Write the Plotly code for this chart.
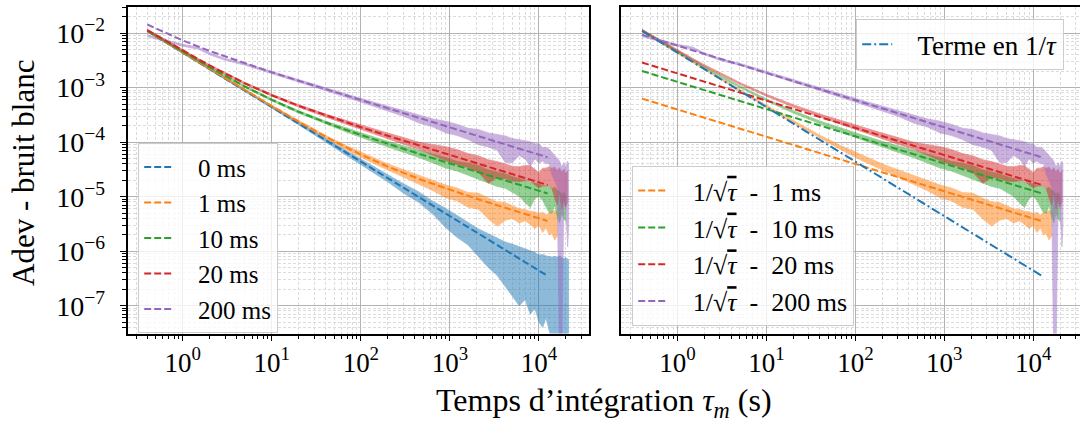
import plotly.graph_objects as go

# ---------------- data ----------------
TAU = [0.4, 0.6, 1, 1.5, 2, 3, 5, 10, 20, 40, 70, 120, 200, 300, 450, 650, 900,
       1200, 1600, 2100, 2700, 3400, 4200, 5000, 6000, 7000, 8000, 9000, 10000,
       11000, 12000, 13000, 14000, 15000, 16000, 17000, 18000, 19000, 20000,
       21000, 21500]

# measured Allan deviation envelopes (upper / lower)
UP_0MS = [1.14e-2, 7.62e-3, 4.58e-3, 3.05e-3, 2.29e-3, 1.53e-3, 9.15e-4, 4.58e-4, 2.31e-4, 1.18e-4,
          6.9e-5, 4.1e-5, 2.53e-5, 1.73e-5, 1.22e-5, 8.1e-6, 6.1e-6, 4.5e-6, 3.3e-6, 2.55e-6,
          2.1e-6, 1.75e-6, 1.47e-6, 1.35e-6, 1.2e-6, 1.1e-6, 1.0e-6, 9.5e-7, 8.5e-7, 8.7e-7,
          8.2e-7, 8.0e-7, 7.8e-7, 8.0e-7, 7.8e-7, 8.2e-7, 7.6e-7, 7.3e-7, 7.6e-7, 7.2e-7, 7.0e-7]
LO_0MS = [1.06e-2, 7.04e-3, 4.22e-3, 2.81e-3, 2.11e-3, 1.41e-3, 8.45e-4, 4.22e-4, 2.09e-4, 1.02e-4,
          5.65e-5, 3.2e-5, 1.87e-5, 1.17e-5, 7.8e-6, 4.7e-6, 2.7e-6, 1.8e-6, 1.3e-6, 8.0e-7,
          5.0e-7, 3.6e-7, 2.2e-7, 1.5e-7, 1.0e-7, 1.3e-7, 7e-8, 9e-8, 5e-8, 4e-8,
          6e-8, 3.5e-8, 2.5e-8, 1e-8, 1e-8, 1e-8, 1e-8, 1e-8, 1e-8, 1e-8, 1e-8]

UP_1MS = [1.146e-2, 7.64e-3, 4.59e-3, 3.07e-3, 2.31e-3, 1.54e-3, 9.34e-4, 4.76e-4, 2.49e-4, 1.34e-4,
          8.52e-5, 5.68e-5, 4.0e-5, 3.13e-5, 2.5e-5, 1.99e-5, 1.63e-5, 1.45e-5, 1.19e-5, 1.16e-5,
          9.4e-6, 8.0e-6, 7.8e-6, 6.9e-6, 6.0e-6, 5.8e-6, 5.4e-6, 5.3e-6, 4.9e-6, 5.2e-6,
          4.6e-6, 5.0e-6, 5.4e-6, 5.6e-6, 5.2e-6]
LO_1MS = [1.058e-2, 7.06e-3, 4.24e-3, 2.83e-3, 2.13e-3, 1.43e-3, 8.62e-4, 4.39e-4, 2.25e-4, 1.18e-4,
          7.18e-5, 4.54e-5, 3.07e-5, 2.26e-5, 1.69e-5, 1.28e-5, 9.6e-6, 8.4e-6, 6.4e-6, 5.9e-6,
          3.9e-6, 2.9e-6, 3.7e-6, 4.0e-6, 3.3e-6, 3.6e-6, 3.1e-6, 2.6e-6, 3.0e-6, 2.2e-6,
          2.7e-6, 2.0e-6, 2.1e-6, 1.6e-6, 1.9e-6]

UP_10MS = [1.163e-2, 7.81e-3, 4.77e-3, 3.24e-3, 2.47e-3, 1.71e-3, 1.09e-3, 6.22e-4, 3.79e-4, 2.44e-4,
           1.79e-4, 1.35e-4, 1.04e-4, 8.6e-5, 7.0e-5, 5.98e-5, 5.23e-5, 4.45e-5, 4.11e-5, 3.72e-5,
           3.09e-5, 2.86e-5, 2.61e-5, 2.35e-5, 2.11e-5, 1.99e-5, 1.86e-5, 1.75e-5, 1.73e-5, 1.59e-5,
           1.58e-5, 1.57e-5, 1.4e-5, 1.5e-5, 1.3e-5, 1.25e-5, 1.1e-5, 1.2e-5, 1.0e-5]
LO_10MS = [1.073e-2, 7.21e-3, 4.40e-3, 2.99e-3, 2.28e-3, 1.58e-3, 1.007e-3, 5.74e-4, 3.43e-4, 2.17e-4,
           1.52e-4, 1.10e-4, 8.2e-5, 6.55e-5, 5.25e-5, 4.16e-5, 3.35e-5, 2.97e-5, 2.44e-5, 2.1e-5,
           1.78e-5, 1.54e-5, 1.43e-5, 1.23e-5, 1.02e-5, 7.7e-6, 6.4e-6, 9.4e-6, 1.02e-5, 8.5e-6,
           6.4e-6, 5.1e-6, 5.0e-6, 7.0e-6, 4.4e-6, 3.3e-6, 5.0e-6, 4.0e-6, 3.5e-6]

UP_20MS = [1.18e-2, 8.0e-3, 4.96e-3, 3.42e-3, 2.65e-3, 1.88e-3, 1.25e-3, 7.56e-4, 4.88e-4, 3.28e-4,
           2.46e-4, 1.88e-4, 1.47e-4, 1.22e-4, 9.98e-5, 9.0e-5, 8.26e-5, 7.31e-5, 6.18e-5, 5.6e-5,
           4.75e-5, 4.4e-5, 4.0e-5, 3.63e-5, 3.54e-5, 3.72e-5, 3.68e-5, 3.09e-5, 2.75e-5, 3.32e-5,
           3.34e-5, 3.53e-5, 3.3e-5, 3.5e-5, 3.0e-5, 3.4e-5, 2.8e-5, 3.2e-5, 2.6e-5, 3.0e-5]
LO_20MS = [1.09e-2, 7.39e-3, 4.57e-3, 3.16e-3, 2.45e-3, 1.74e-3, 1.153e-3, 6.98e-4, 4.41e-4, 2.91e-4,
           2.09e-4, 1.54e-4, 1.155e-4, 9.2e-5, 7.38e-5, 5.77e-5, 4.59e-5, 3.87e-5, 3.44e-5, 2.8e-5,
           1.76e-5, 2.26e-5, 2.14e-5, 1.94e-5, 1.89e-5, 1.97e-5, 1.94e-5, 1.64e-5, 1.46e-5, 1.57e-5,
           1.59e-5, 1.6e-5, 1.4e-5, 1.0e-5, 7e-6, 1.2e-5, 6e-6, 9e-6, 6.5e-6, 8e-6]

UP_200MS = [9.36e-3, 7.8e-3, 6.24e-3, 5.51e-3, 4.37e-3, 3.43e-3, 2.81e-3, 1.99e-3, 1.40e-3, 9.95e-4,
            7.58e-4, 5.83e-4, 4.6e-4, 3.82e-4, 3.2e-4, 2.66e-4, 2.42e-4, 2.13e-4, 1.8e-4, 1.7e-4,
            1.48e-4, 1.37e-4, 1.3e-4, 1.17e-4, 1.1e-4, 1.06e-4, 1.02e-4, 9.3e-5, 9.4e-5, 7.9e-5,
            8.1e-5, 7.5e-5, 6.5e-5, 5.5e-5, 5.0e-5, 4.5e-5, 3.5e-5, 4.2e-5, 3.5e-5, 4.5e-5, 3.8e-5]
LO_200MS = [8.64e-3, 7.2e-3, 5.76e-3, 5.09e-3, 4.03e-3, 3.17e-3, 2.59e-3, 1.84e-3, 1.27e-3, 8.83e-4,
            6.58e-4, 4.97e-4, 3.76e-4, 3.0e-4, 2.25e-4, 1.89e-4, 1.48e-4, 1.33e-4, 1.12e-4, 9.0e-5,
            8.2e-5, 7.1e-5, 4.2e-5, 4.2e-5, 5.7e-5, 4.9e-5, 3.6e-5, 5.0e-5, 4.1e-5, 4.5e-5,
            4.0e-5, 4.1e-5, 2.5e-5, 2.0e-5, 1.5e-5, 1e-8, 1e-8, 8e-6, 6e-6, 1.2e-6, 3e-6]

# fitted models (left panel, dashed)
TAU_FIT = [0.4, 1, 2, 5, 10, 20, 50, 100, 200, 500, 1000, 2000, 5000, 12500]
FIT_0MS = [1.1e-2, 4.4e-3, 2.2e-3, 8.8e-4, 4.4e-4, 2.2e-4, 8.8e-5, 4.4e-5, 2.2e-5, 8.8e-6, 4.4e-6, 2.2e-6, 8.8e-7, 3.52e-7]
FIT_1MS = [1.102e-2, 4.418e-3, 2.218e-3, 8.98e-4, 4.577e-4, 2.373e-4, 1.045e-4, 5.93e-5, 3.57e-5, 1.986e-5, 1.335e-5, 9.17e-6, 5.70e-6, 3.58e-6]
FIT_10MS = [1.118e-2, 4.582e-3, 2.379e-3, 1.049e-3, 5.98e-4, 3.61e-4, 2.013e-4, 1.353e-4, 9.31e-5, 5.79e-5, 4.07e-5, 2.87e-5, 1.812e-5, 1.146e-5]
FIT_20MS = [1.137e-2, 4.765e-3, 2.552e-3, 1.201e-3, 7.27e-4, 4.644e-4, 2.736e-4, 1.882e-4, 1.312e-4, 8.23e-5, 5.80e-5, 4.10e-5, 2.59e-5, 1.638e-5]
FIT_200MS = [1.442e-2, 7.36e-3, 4.715e-3, 2.783e-3, 1.917e-3, 1.337e-3, 8.39e-4, 5.92e-4, 4.18e-4, 2.64e-4, 1.866e-4, 1.319e-4, 8.34e-5, 5.28e-5]

# individual terms (right panel)
TAU_TERM = [0.4, 12500]
TERM_INV_TAU = [1.1e-2, 3.52e-7]
TERM_SQRT_1MS = [6.29e-4, 3.56e-6]
TERM_SQRT_10MS = [2.02e-3, 1.145e-5]
TERM_SQRT_20MS = [2.89e-3, 1.637e-5]
TERM_SQRT_200MS = [9.33e-3, 5.28e-5]

LABELS = ["0 ms", "1 ms", "10 ms", "20 ms", "200 ms"]
XTICKS = [1, 10, 100, 1000, 10000]
XTICKTEXT = ["10<sup>0</sup>", "10<sup>1</sup>", "10<sup>2</sup>", "10<sup>3</sup>", "10<sup>4</sup>"]
YTICKS = [1e-7, 1e-6, 1e-5, 1e-4, 1e-3, 1e-2]
YTICKTEXT = ["10<sup>\u22127</sup>", "10<sup>\u22126</sup>", "10<sup>\u22125</sup>",
             "10<sup>\u22124</sup>", "10<sup>\u22123</sup>", "10<sup>\u22122</sup>"]

# ---------------- style ----------------
C = ["#1f77b4", "#ff7f0e", "#2ca02c", "#d62728", "#9467bd"]
DASH = "7px,3px"
DASHDOT = "9px,3px,2px,3px"
FONT = "Liberation Serif, Times New Roman, serif"
PAD = "\u2002\u2005"  # indent between legend sample and text

W, H = 1080, 423
XMINOR = [m * 10 ** k for k in range(-1, 5) for m in range(2, 10)]
YMINOR = [m * 10 ** k for k in range(-9, -1) for m in range(2, 10)]

fig = go.Figure()


def band(up, lo, color, xa, ya):
    t = TAU[:len(up)]
    return go.Scatter(x=t + t[::-1], y=up + lo[::-1], mode="lines", fill="toself",
                      fillcolor=color, line=dict(color=color, width=0.8), opacity=0.5,
                      showlegend=False, hoverinfo="skip", xaxis=xa, yaxis=ya)


bands = [(UP_0MS, LO_0MS), (UP_1MS, LO_1MS), (UP_10MS, LO_10MS), (UP_20MS, LO_20MS), (UP_200MS, LO_200MS)]
fits = [FIT_0MS, FIT_1MS, FIT_10MS, FIT_20MS, FIT_200MS]

# left panel
for i, (u, l) in enumerate(bands):
    fig.add_trace(band(u, l, C[i], "x", "y"))
for i, f in enumerate(fits):
    fig.add_trace(go.Scatter(x=TAU_FIT, y=f, mode="lines", name=PAD + LABELS[i],
                             line=dict(color=C[i], width=2, dash=DASH),
                             legend="legend", xaxis="x", yaxis="y"))

# right panel
for i, (u, l) in enumerate(bands):
    if i == 0:
        continue
    fig.add_trace(band(u, l, C[i], "x2", "y2"))
terms = [TERM_SQRT_1MS, TERM_SQRT_10MS, TERM_SQRT_20MS, TERM_SQRT_200MS]
sq = PAD + "1/\u221a<span style='text-decoration:overline'><i>\u03c4</i></span>\u2002-\u2002"
for j, tvals in enumerate(terms):
    i = j + 1
    fig.add_trace(go.Scatter(x=TAU_TERM, y=tvals, mode="lines", name=sq + LABELS[i],
                             line=dict(color=C[i], width=2, dash=DASH),
                             legend="legend2", xaxis="x2", yaxis="y2"))
fig.add_trace(go.Scatter(x=TAU_TERM, y=TERM_INV_TAU, mode="lines",
                         name=PAD + "Terme en 1/<i>\u03c4</i>",
                         line=dict(color=C[0], width=2, dash=DASHDOT),
                         legend="legend3", xaxis="x2", yaxis="y2"))

GRID = dict(showgrid=True, gridcolor="#b3b3b3", gridwidth=1.1, zeroline=False)


def minor(vals, ticks):
    return dict(tickmode="array", tickvals=vals, ticks=ticks, ticklen=3.5, tickwidth=0.8,
                tickcolor="black", showgrid=True, gridcolor="#dcdcdc", gridwidth=0.7,
                griddash="3px,2px")


def xax(domain, rng, anchor):
    d = dict(type="log", domain=domain, range=rng, anchor=anchor, showline=True, linecolor="black",
             linewidth=1.6, mirror=True, ticks="outside", ticklen=6, tickwidth=1.2, tickcolor="black",
             tickmode="array", tickvals=XTICKS, ticktext=XTICKTEXT, tickfont=dict(size=27),
             ticklabelstandoff=-2, minor=minor(XMINOR, "outside"))
    d.update(GRID)
    return d


YDOM = [1 - 333.5 / H, 1 - 7 / H]
YRNG = [-7.51, -1.52]
LEG = dict(xanchor="left", yanchor="top", bgcolor="rgba(255,255,255,0.8)", bordercolor="#cccccc",
           borderwidth=1.2, tracegroupgap=0)

layout = dict(
    width=W, height=H, margin=dict(l=0, r=0, t=0, b=0),
    paper_bgcolor="white", plot_bgcolor="white",
    font=dict(family=FONT, color="black", size=25),
    xaxis=xax([127.5 / W, 589.3 / W], [-0.620, 4.565], "y"),
    xaxis2=xax([620.5 / W, 1.0], [-0.640, 4.525], "y2"),
    yaxis=dict(type="log", domain=YDOM, range=YRNG, anchor="x", showline=True, linecolor="black",
               linewidth=1.6, mirror=True, ticks="outside", ticklen=6, tickwidth=1.2, tickcolor="black",
               tickmode="array", tickvals=YTICKS, ticktext=YTICKTEXT, tickfont=dict(size=28),
               ticklabelstandoff=9, minor=minor(YMINOR, "outside"), **GRID),
    yaxis2=dict(type="log", domain=YDOM, range=YRNG, anchor="x2", showline=True, linecolor="black",
                linewidth=1.6, mirror=False, ticks="", showticklabels=False,
                tickmode="array", tickvals=YTICKS, minor=minor(YMINOR, ""), **GRID),
    legend=dict(x=138 / W, y=1 - 143 / H, font=dict(size=25), **LEG),
    legend2=dict(x=632 / W, y=1 - 166 / H, font=dict(size=26), **LEG),
    legend3=dict(x=856 / W, y=1 - 19 / H, font=dict(size=27), **LEG),
    annotations=[
        dict(text="Temps d\u2019int\u00e9gration <i>\u03c4</i><sub><i>m</i></sub> (s)", x=604 / W, y=1 - 402 / H,
             xref="paper", yref="paper", xanchor="center", yanchor="middle", showarrow=False,
             font=dict(size=32)),
        dict(text="Adev - bruit blanc", x=23 / W, y=1 - 173 / H, xref="paper", yref="paper",
             xanchor="center", yanchor="middle", showarrow=False, textangle=-90,
             font=dict(size=31)),
    ],
)
fig.update_layout(**layout)
fig.write_html("out.html", config={"displayModeBar": False},
               post_script="document.body.style.margin='0px';")
